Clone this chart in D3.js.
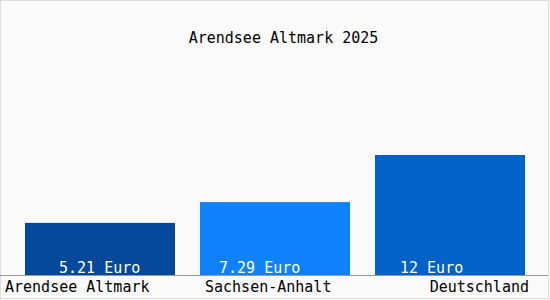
<!DOCTYPE html>
<html>
<head>
<meta charset="utf-8">
<script src="https://cdn.jsdelivr.net/npm/d3@7"></script>
<style>
  html, body { margin: 0; padding: 0; background: #fafafa; }
  svg { display: block; }
  text { font-family: "DejaVu Sans Mono", monospace; font-size: 15px; }
</style>
</head>
<body>
<script>
const categories = ["Arendsee Altmark", "Sachsen-Anhalt", "Deutschland"];
const values = [5.21, 7.29, 12];
const valueLabels = ["5.21 Euro", "7.29 Euro", "12 Euro"];
const colors = ["#04489a", "#0f82fb", "#0062c6"];
const title = "Arendsee Altmark 2025";

const W = 550, H = 300;
const svg = d3.select("body").append("svg").attr("width", W).attr("height", H);

svg.append("rect").attr("x", 0.5).attr("y", 0.5).attr("width", 548).attr("height", 298)
  .attr("fill", "#fafafa").attr("stroke", "#dddddd");

const x = d3.scaleBand().domain(categories).range([0, 550])
  .paddingInner(25 / 175).paddingOuter(25 / 175);
const y = d3.scaleLinear().domain([0, 12]).range([275, 155]);

svg.selectAll("rect.bar").data(values).enter().append("rect")
  .attr("class", "bar")
  .attr("x", (d, i) => x(categories[i]))
  .attr("width", x.bandwidth())
  .attr("y", d => y(d))
  .attr("height", d => y(0) - y(d))
  .attr("fill", (d, i) => colors[i]);

// value labels inside bars
const valOffsets = [34, 19, 25];
svg.selectAll("text.val").data(valueLabels).enter().append("text")
  .attr("class", "val")
  .attr("x", (d, i) => x(categories[i]) + valOffsets[i])
  .attr("y", 273)
  .attr("fill", "#ffffff")
  .text(d => d);

// axis line
svg.append("line").attr("x1", 0).attr("x2", 548).attr("y1", 275.5).attr("y2", 275.5)
  .attr("stroke", "#999999").attr("stroke-width", 1);

// category labels
const labelX = [5, 205, 529];
const labelAnchor = ["start", "start", "end"];
svg.selectAll("text.cat").data(categories).enter().append("text")
  .attr("class", "cat")
  .attr("x", (d, i) => labelX[i])
  .attr("y", 292)
  .attr("text-anchor", (d, i) => labelAnchor[i])
  .attr("fill", "#000000")
  .text(d => d);

svg.append("text").attr("x", 283.5).attr("y", 43).attr("text-anchor", "middle")
  .attr("fill", "#000000").text(title);
</script>
</body>
</html>
